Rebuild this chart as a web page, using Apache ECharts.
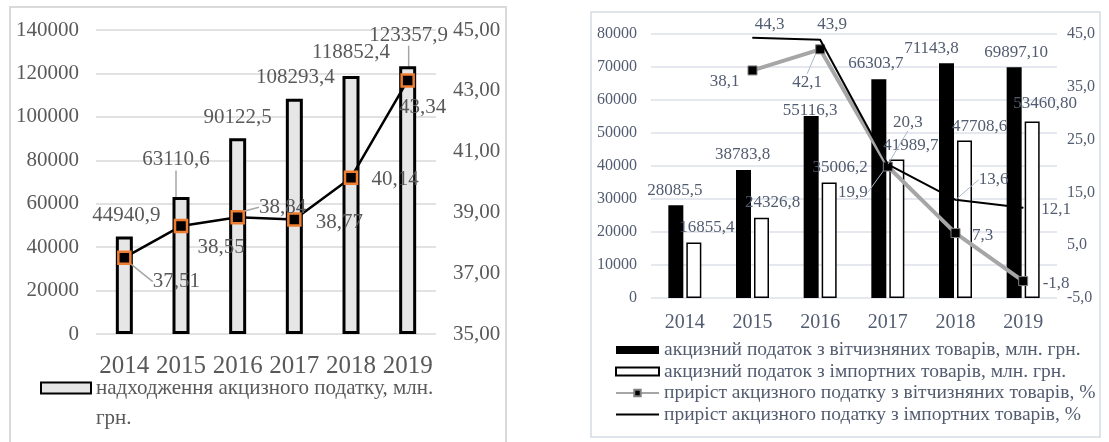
<!DOCTYPE html>
<html>
<head>
<meta charset="utf-8">
<script src="https://cdn.jsdelivr.net/npm/echarts@6/dist/echarts.min.js"></script>
<style>
html,body{margin:0;padding:0;background:#fff;}
#c{width:1109px;height:442px;}
</style>
</head>
<body>
<div id="c"></div>
<script>
// ---- data ----
const years = ['2014', '2015', '2016', '2017', '2018', '2019'];
const exciseTotal = [44940.9, 63110.6, 90122.5, 108293.4, 118852.4, 123357.9];
const exciseShare = [37.51, 38.55, 38.84, 38.77, 40.14, 43.34];
const domesticTax = [28085.5, 38783.8, 55116.3, 66303.7, 71143.8, 69897.10];
const importTax = [16855.4, 24326.8, 35006.2, 41989.7, 47708.6, 53460.80];
const domesticGrowth = [null, 38.1, 42.1, 19.9, 7.3, -1.8];
const importGrowth = [null, 44.3, 43.9, 20.3, 13.6, 12.1];
const taxDecimals = [1, 1, 1, 1, 1, 2];

const nameTotal = 'надходження акцизного податку, млн. грн.';
const nameShare = 'частка акцизного податку, %';
const nameDom = 'акцизний податок з вітчизняних товарів, млн. грн.';
const nameImp = 'акцизний податок з імпортних товарів, млн. грн.';
const nameDomG = 'приріст акцизного податку з вітчизняних товарів, %';
const nameImpG = 'приріст акцизного податку з імпортних товарів, %';

// ---- label layout offsets (style, not data) ----
const offTotal = [[2,0],[-5,-16],[0,0],[1,0],[0,-2],[1,-10]];
const lineTotal = [false,true,false,false,false,true];
const offShare = [[52,24],[40,21],[45,-10],[45,3],[44,2],[15,27]];
const lineShare = [true,false,true,false,false,false];
const offDom = [[-1,0],[-1,0],[-1,9],[-3,-1],[-15,0],[2,0]];
const offImp = [[13,0],[11,0],[11,0],[14,1],[15,1],[13,-3]];
const offDomG = [[0,0],[-28,11],[-13,33],[-35,26],[27,2],[33,2]];
const lineDomG = [false,false,true,true,false,false];
const offImpG = [[0,0],[17,-13],[12,-15],[20,-42],[38,-20],[33,2]];
const lineImpG = [false,false,false,true,true,false];

const fmt = (v, d) => v.toFixed(d).replace('.', ',');
const SERIF = 'Liberation Serif';
const GL = '#595959';      // left chart text
const GR = '#525c70';      // right chart text
const lay = off => p => ({ dx: off[p.dataIndex][0], dy: off[p.dataIndex][1] });

const chart = echarts.init(document.getElementById('c'));
chart.setOption({
  animation: false,
  graphic: [
    { type: 'rect', shape: { x: 10, y: 7, width: 496, height: 445 }, style: { fill: 'none', stroke: '#d9d9d9', lineWidth: 2 }, silent: true },
    { type: 'rect', shape: { x: 591, y: 12, width: 509, height: 425 }, style: { fill: 'none', stroke: '#d5dae3', lineWidth: 1.5 }, silent: true }
  ],
  grid: [
    { left: 96, top: 30, width: 340, height: 304 },
    { left: 651, top: 34, width: 406, height: 264 }
  ],
  legend: [
    {
      data: [nameTotal], left: 40, top: 343, padding: 0,
      itemWidth: 50, itemHeight: 11, icon: 'rect',
      formatter: n => '\n' + n.replace(' грн.', '\nгрн.'),
      textStyle: { fontFamily: SERIF, fontSize: 21, color: GL, lineHeight: 30 }
    },
    {
      data: [
        { name: nameDom, icon: 'rect' },
        { name: nameImp, icon: 'rect' },
        { name: nameDomG },
        { name: nameImpG, icon: 'path://M0,0L40,0L40,2L0,2Z' }
      ],
      orient: 'vertical', left: 615, top: 340, padding: 0,
      itemWidth: 43, itemHeight: 8, itemGap: 1.5,
      textStyle: { fontFamily: SERIF, fontSize: 19.5, color: GR, lineHeight: 18 }
    }
  ],
  xAxis: [
    {
      gridIndex: 0, type: 'category', data: years,
      axisLine: { show: false }, axisTick: { show: false },
      axisLabel: { interval: 0, fontFamily: SERIF, fontSize: 25, color: GL, margin: 20 }
    },
    {
      gridIndex: 1, type: 'category', data: years,
      axisLine: { show: false }, axisTick: { show: false },
      axisLabel: { interval: 0, fontFamily: SERIF, fontSize: 20, color: GR, margin: 15 }
    }
  ],
  yAxis: [
    {
      gridIndex: 0, type: 'value', min: 0, max: 140000, interval: 20000, position: 'left',
      axisLine: { show: false }, axisTick: { show: false },
      axisLabel: { fontFamily: SERIF, fontSize: 21, color: GL, margin: 17, formatter: v => String(v) },
      splitLine: { lineStyle: { color: '#d9d9d9', width: 1.5 } }
    },
    {
      gridIndex: 0, type: 'value', min: 35, max: 45, interval: 2, position: 'right',
      axisLine: { show: false }, axisTick: { show: false },
      axisLabel: { fontFamily: SERIF, fontSize: 21, color: GL, margin: 17, formatter: v => fmt(v, 2) },
      splitLine: { show: false }
    },
    {
      gridIndex: 1, type: 'value', min: 0, max: 80000, interval: 10000, position: 'left',
      axisLine: { show: false }, axisTick: { show: false },
      axisLabel: { fontFamily: SERIF, fontSize: 16, color: GR, margin: 14, formatter: v => String(v) },
      splitLine: { lineStyle: { color: '#dce1e9', width: 1.5 } }
    },
    {
      gridIndex: 1, type: 'value', min: -5, max: 45, interval: 10, position: 'right',
      axisLine: { show: false }, axisTick: { show: false },
      axisLabel: { fontFamily: SERIF, fontSize: 16, color: GR, margin: 10, formatter: v => fmt(v, 1) },
      splitLine: { show: false }
    }
  ],
  series: [
    {
      name: nameTotal, type: 'bar', xAxisIndex: 0, yAxisIndex: 0, barWidth: 17,
      data: exciseTotal.map((v, i) => ({ value: v, labelLine: { show: lineTotal[i] } })),
      itemStyle: { color: '#e7e6e6', borderColor: '#000', borderWidth: 3 },
      label: { show: true, position: 'top', distance: 10.5, fontFamily: SERIF, fontSize: 21, color: GL, formatter: p => fmt(p.value, 1) },
      labelLayout: lay(offTotal),
      labelLine: { lineStyle: { color: '#a6a6a6', width: 1.5 } },
      z: 2
    },
    {
      name: nameShare, type: 'line', xAxisIndex: 0, yAxisIndex: 1,
      data: exciseShare.map((v, i) => ({ value: v, labelLine: { show: lineShare[i] } })),
      lineStyle: { color: '#000', width: 2.5 },
      symbol: 'rect', symbolSize: 12,
      itemStyle: { color: '#000', borderColor: '#ed7d31', borderWidth: 2.5 },
      label: { show: true, position: 'inside', fontFamily: SERIF, fontSize: 21, color: GL, formatter: p => fmt(p.value, 2) },
      labelLayout: lay(offShare),
      labelLine: { lineStyle: { color: '#a6a6a6', width: 1.5 } },
      z: 3
    },
    {
      name: nameDom, type: 'bar', xAxisIndex: 1, yAxisIndex: 2, barWidth: 15, barGap: '20%',
      data: domesticTax,
      itemStyle: { color: '#000' },
      label: { show: true, position: 'top', distance: 6.5, fontFamily: SERIF, fontSize: 17, color: GR, formatter: p => fmt(p.value, taxDecimals[p.dataIndex]) },
      labelLayout: lay(offDom),
      z: 2
    },
    {
      name: nameImp, type: 'bar', xAxisIndex: 1, yAxisIndex: 2, barWidth: 15,
      data: importTax,
      itemStyle: { color: '#fff', borderColor: '#000', borderWidth: 1.5 },
      label: { show: true, position: 'top', distance: 6.5, fontFamily: SERIF, fontSize: 17, color: GR, formatter: p => fmt(p.value, taxDecimals[p.dataIndex]) },
      labelLayout: lay(offImp),
      z: 2
    },
    {
      name: nameDomG, type: 'line', xAxisIndex: 1, yAxisIndex: 3,
      data: domesticGrowth.map((v, i) => ({ value: v, labelLine: { show: lineDomG[i] } })),
      lineStyle: { color: '#a6a6a6', width: 4 },
      symbol: 'rect', symbolSize: 9,
      itemStyle: { color: '#000', borderColor: '#7f7f7f', borderWidth: 1 },
      label: { show: true, position: 'inside', fontFamily: SERIF, fontSize: 17, color: GR, formatter: p => fmt(p.value, 1) },
      labelLayout: lay(offDomG),
      labelLine: { lineStyle: { color: '#a9b8cc', width: 1 } },
      z: 4
    },
    {
      name: nameImpG, type: 'line', xAxisIndex: 1, yAxisIndex: 3,
      data: importGrowth.map((v, i) => ({ value: v, labelLine: { show: lineImpG[i] } })),
      lineStyle: { color: '#000', width: 2 },
      symbol: 'circle', symbolSize: 1,
      itemStyle: { color: '#000' },
      label: { show: true, position: 'inside', fontFamily: SERIF, fontSize: 17, color: GR, formatter: p => fmt(p.value, 1) },
      labelLayout: lay(offImpG),
      labelLine: { lineStyle: { color: '#a9b8cc', width: 1 } },
      z: 5
    }
  ]
});
</script>
</body>
</html>
